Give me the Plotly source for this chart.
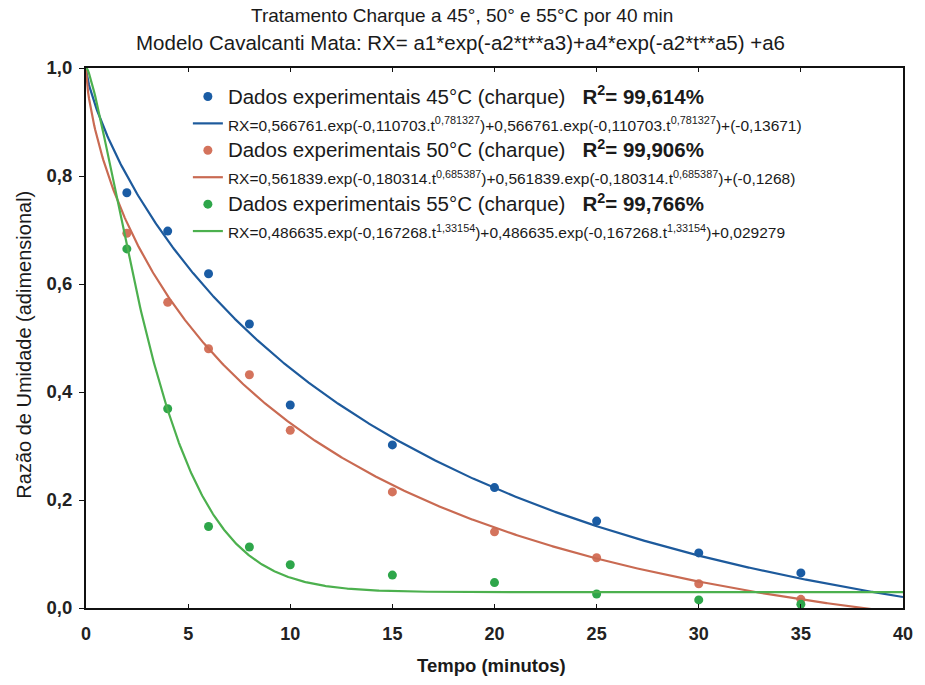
import numpy as np
import plotly.graph_objects as go

# Experimental moisture-ratio data (time in minutes)
tempo = [2, 4, 6, 8, 10, 15, 20, 25, 30, 35]
rx_45 = [0.769, 0.698, 0.619, 0.526, 0.376, 0.302, 0.223, 0.161, 0.102, 0.065]
rx_50 = [0.694, 0.566, 0.480, 0.432, 0.329, 0.215, 0.141, 0.093, 0.045, 0.016]
rx_55 = [0.665, 0.369, 0.151, 0.113, 0.080, 0.061, 0.047, 0.026, 0.015, 0.007]

# Fitted Cavalcanti Mata parameters: a1, a2, a3, a4, a5, a6
par_45 = [0.566761, 0.110703, 0.781327, 0.566761, 0.781327, -0.13671]
par_50 = [0.561839, 0.180314, 0.685387, 0.561839, 0.685387, -0.1268]
par_55 = [0.486635, 0.167268, 1.33154, 0.486635, 1.33154, 0.029279]

r2_labels = ["99,614%", "99,906%", "99,766%"]
temperaturas = ["45°C", "50°C", "55°C"]
eq_labels = [
    "RX=0,566761.exp(-0,110703.t<sup>0,781327</sup>)+0,566761.exp(-0,110703.t<sup>0,781327</sup>)+(-0,13671)",
    "RX=0,561839.exp(-0,180314.t<sup>0,685387</sup>)+0,561839.exp(-0,180314.t<sup>0,685387</sup>)+(-0,1268)",
    "RX=0,486635.exp(-0,167268.t<sup>1,33154</sup>)+0,486635.exp(-0,167268.t<sup>1,33154</sup>)+0,029279",
]

marker_colors = ["#1a5ca4", "#d4735c", "#2ea64a"]
line_colors = ["#1d5a9c", "#c96a52", "#4cb04e"]


def cavalcanti_mata(t, p):
    a1, a2, a3, a4, a5, a6 = p
    return a1 * np.exp(-a2 * t ** a3) + a4 * np.exp(-a2 * t ** a5) + a6


t_fit = np.linspace(0, 40, 801)

fig = go.Figure()
for dados, par, temp, r2, eq, mc, lc in zip(
    [rx_45, rx_50, rx_55], [par_45, par_50, par_55], temperaturas, r2_labels,
    eq_labels, marker_colors, line_colors,
):
    fig.add_trace(go.Scatter(
        x=tempo, y=dados, mode="markers",
        marker=dict(color=mc, size=9),
        cliponaxis=False,
        name=(f'<span style="font-size:20.5px">Dados experimentais {temp} (charque)'
              f'\u00a0\u00a0\u00a0<b>R<sup>2</sup>= {r2}</b></span>'),
    ))
    fig.add_trace(go.Scatter(
        x=t_fit, y=cavalcanti_mata(t_fit, par), mode="lines",
        line=dict(color=lc, width=2.2),
        name=f'<span style="font-size:15.5px">{eq}</span>',
    ))

# plot-area geometry in pixels
L, R, T, B = 86, 912, 68, 608
W, H = 925, 685


def px(x):
    return (x - L) / (R - L)


def py(y):
    return (B - y) / (B - T)


font_family = "Liberation Sans, Arial, sans-serif"

fig.update_layout(
    width=W, height=H,
    margin=dict(l=L, r=W - R, t=T, b=H - B),
    paper_bgcolor="white", plot_bgcolor="white",
    separators=",.",
    font=dict(family=font_family, color="#1a1a1a"),
    showlegend=True,
    legend=dict(
        x=px(189), y=py(78), xanchor="left", yanchor="top",
        bgcolor="rgba(0,0,0,0)", font=dict(size=18.4, color="#1a1a1a"),
        itemwidth=30, tracegroupgap=0,
    ),
    xaxis=dict(
        range=[0, 40], dtick=5, tick0=0, showgrid=False, zeroline=False,
        showline=True, linecolor="#111", linewidth=2, mirror="ticks",
        ticks="inside", ticklen=4, tickcolor="#111", ticklabelstandoff=8,
        tickfont=dict(size=18, weight="bold", color="#222"),
    ),
    yaxis=dict(
        range=[0, 1], dtick=0.2, tick0=0, tickformat=".1f",
        showgrid=False, zeroline=False,
        showline=True, linecolor="#111", linewidth=2, mirror=True,
        ticks="outside", ticklen=5, tickcolor="#111", ticklabelstandoff=3,
        tickfont=dict(size=18.5, weight="bold", color="#222"),
    ),
    annotations=[
        dict(text="Tratamento Charque a 45°, 50° e 55°C por 40 min",
             x=px(466), y=py(15), xref="paper", yref="paper",
             xanchor="center", yanchor="middle",
             showarrow=False, font=dict(size=19, color="#1a1a1a")),
        dict(text="Modelo Cavalcanti Mata: RX= a1*exp(-a2*t**a3)+a4*exp(-a2*t**a5) +a6",
             x=px(465), y=py(42), xref="paper", yref="paper",
             xanchor="center", yanchor="middle",
             showarrow=False, font=dict(size=20.5, color="#1a1a1a")),
        dict(text="Razão de Umidade (adimensional)", textangle=-90,
             x=px(23), y=py(345), xref="paper", yref="paper",
             xanchor="center", yanchor="middle",
             showarrow=False, font=dict(size=20, color="#1a1a1a")),
        dict(text="<b>Tempo (minutos)</b>",
             x=px(496), y=py(665), xref="paper", yref="paper",
             xanchor="center", yanchor="middle",
             showarrow=False, font=dict(size=18.5, color="#1a1a1a")),
    ],
)

fig.write_html("out.html")
